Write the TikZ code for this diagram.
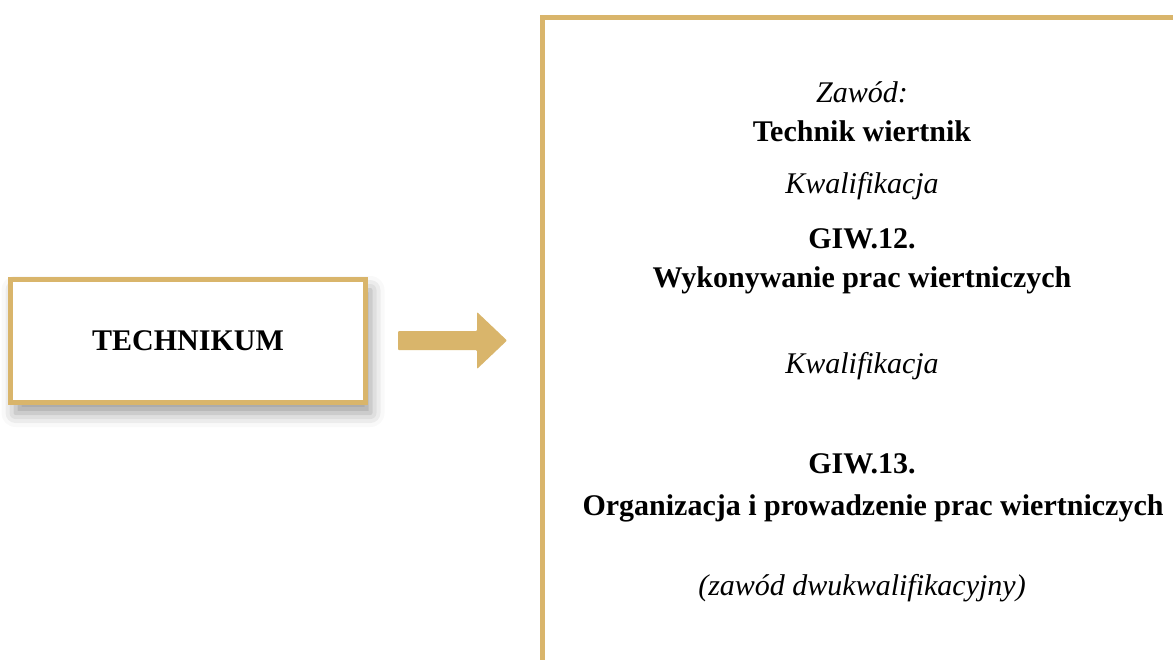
\documentclass[tikz,border=0pt]{standalone}
\usepackage{fontspec}
\setmainfont{Liberation Serif}
\usetikzlibrary{shadows.blur}
\definecolor{zloty}{RGB}{217,181,107}

\begin{document}
\begin{tikzpicture}[x=1pt,y=-1pt,
    ramka/.style={draw=zloty,line width=5pt,fill=white,inner sep=0pt},
    kursywa/.style={anchor=base,font=\fontsize{30}{36}\selectfont\itshape},
    gruby/.style={anchor=base,font=\fontsize{30}{36}\selectfont\bfseries}]

    \def\srodek{862}%Srodek tekstu w prawej ramce

    \useasboundingbox (0,0) rectangle (1173,659);
    \clip (0,0) rectangle (1173,659);

    %Lewa ramka
    \node[ramka,minimum width=355pt,minimum height=123pt,
        blur shadow={shadow xshift=5pt,shadow yshift=-11pt,shadow blur radius=14pt,shadow opacity=40},
        font=\fontsize{30}{36}\selectfont\bfseries] (technikum) at (188,340.5) {TECHNIKUM};

    %Strzalka
    \coordinate (ogon) at (398,340.5);
    \fill[zloty,rounded corners=1pt] ([yshift=9.5pt]ogon) -- ++(79,0) -- ++(0,-19) -- ++(30,28.5)
        -- ++(-30,28.5) -- ++(0,-19) -- ++(-79,0) -- cycle;

    %Prawa ramka
    \node[ramka,anchor=north west,minimum width=700pt,minimum height=700pt] (zawody) at (540,14.5) {};

    %Teksty
    \node[kursywa] (zawod) at (\srodek,102) {Zawód:};
    \node[gruby] (technik) at (\srodek,141) {Technik wiertnik};
    \node[kursywa] (kwal1) at (\srodek,193) {Kwalifikacja};
    \node[gruby] (giw12) at (\srodek,248) {GIW.12.};
    \node[gruby] (prace) at (\srodek,287) {Wykonywanie prac wiertniczych};
    \node[kursywa] (kwal2) at (\srodek,373) {Kwalifikacja};
    \node[gruby] (giw13) at (\srodek,473) {GIW.13.};
    \node[gruby] (organizacja) at (873,515) {Organizacja i prowadzenie prac wiertniczych};
    \node[kursywa] (dwukwal) at (\srodek,595) {(zawód dwukwalifikacyjny)};
\end{tikzpicture}
\end{document}
